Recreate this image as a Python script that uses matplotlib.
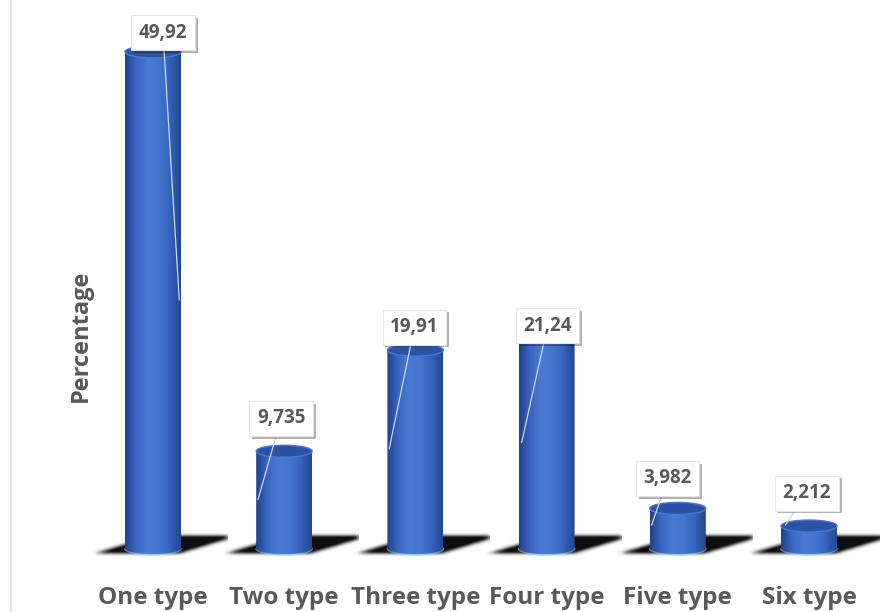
import numpy as np
import matplotlib
matplotlib.use("Agg")
import matplotlib.pyplot as plt
from matplotlib.patches import PathPatch, Ellipse
from matplotlib.path import Path
import matplotlib.patheffects as pe
from matplotlib.colors import LinearSegmentedColormap

categories = ["One type", "Two type", "Three type", "Four type", "Five type", "Six type"]
values = [49.92, 9.735, 19.91, 21.24, 3.982, 2.212]
value_labels = ["49,92", "9,735", "19,91", "21,24", "3,982", "2,212"]

# style: label offsets (px) relative to bar top, leader end x-offsets (bar units)
label_dx = [10, -3, -1, 1, -10, -2]
label_dy = [19, 33, 23, 11, 30, 33]
leader_dx = [0.2, -0.2, -0.2, -0.19, -0.2, -0.18]

W, H = 885, 612
fig = plt.figure(figsize=(W / 100, H / 100), dpi=100)
ax_left, ax_right, ax_top, ax_bottom = 30, 880, 5, 575
ax = fig.add_axes([ax_left / W, (H - ax_bottom) / H, (ax_right - ax_left) / W, (ax_bottom - ax_top) / H])

px_per_x = 131.2
px_per_y = 9.94
base_px = 548
x0_px = 153
ax.axis("off")

xs = np.arange(len(categories))
hw = 28 / px_per_x
eh = 6 / px_per_y

cmap = LinearSegmentedColormap.from_list(
    "cyl", ["#20418f", "#3a66c2", "#4a7ad3", "#4676cf", "#3562bc", "#23468f"])
grad = np.linspace(0, 1, 200)[None, :]

# blurred parallelogram shadow mask (pixel space, y up)
gx = np.arange(-75, 76)
gy = np.arange(-14, 24)
GX, GY = np.meshgrid(gx, gy)
slope = 56 / 17.0
left_edge = -56 + (GY + 5) * slope
right_edge = 28 + (GY + 5) * slope
mask = ((GY >= -5) & (GY <= 12) & (GX >= left_edge) & (GX <= right_edge)).astype(float)
k = np.exp(-0.5 * (np.arange(-7, 8) / 3.0) ** 2)
k /= k.sum()
mask = np.apply_along_axis(lambda r: np.convolve(r, k, mode="same"), 1, mask)
k2 = np.exp(-0.5 * (np.arange(-4, 5) / 1.6) ** 2)
k2 /= k2.sum()
mask = np.apply_along_axis(lambda c: np.convolve(c, k2, mode="same"), 0, mask)
shadow_rgba = np.zeros(mask.shape + (4,))
shadow_rgba[..., 3] = np.clip(mask * 1.1, 0, 0.95)

for x, v in zip(xs, values):
    ax.imshow(shadow_rgba, origin="lower", aspect="auto", interpolation="bilinear",
              extent=(x + gx[0] / px_per_x, x + gx[-1] / px_per_x,
                      gy[0] / px_per_y, gy[-1] / px_per_y), zorder=1)
    ax.add_patch(Ellipse((x, -0.1), 2 * hw * 1.03, 2 * eh * 1.1, fc="#7fd3e6", ec="none", zorder=1.5, alpha=0.6))
    tb = np.linspace(np.pi, 2 * np.pi, 40)
    tt = np.linspace(0, np.pi, 40)
    bottom = np.column_stack([x + hw * np.cos(tb), 0 + eh * np.sin(tb)])
    top = np.column_stack([x + hw * np.cos(tt), v + eh * np.sin(tt)])
    verts = np.vstack([bottom, top, bottom[:1]])
    path = Path(verts, closed=True)
    patch = PathPatch(path, fc="none", ec="none", zorder=2)
    ax.add_patch(patch)
    im = ax.imshow(grad, cmap=cmap, aspect="auto", extent=(x - hw, x + hw, -eh, v + eh),
                   zorder=2, interpolation="bilinear")
    im.set_clip_path(patch)
    ax.add_patch(Ellipse((x, v), 2 * hw, 2 * eh, fc="#2c52a6", ec="#4a78cf", lw=1.0, zorder=3))

ax.set_xlim((ax_left - x0_px) / px_per_x, (ax_right - x0_px) / px_per_x)
ax.set_ylim(-(ax_bottom - base_px) / px_per_y, (base_px - ax_top) / px_per_y)
ax.set_aspect("auto")

txt_color = "#595959"
FONT = "Open Sans"
for i, (x, v, lab) in enumerate(zip(xs, values, value_labels)):
    end_y = max(v / 2, 2.3)
    a = ax.annotate(lab, xy=(x + leader_dx[i], end_y),
                    xytext=(x + label_dx[i] / px_per_x, v + label_dy[i] / px_per_y),
                    ha="center", va="center", fontsize=13.5, fontweight="bold",
                    color=txt_color, family=FONT,
                    bbox=dict(boxstyle="square,pad=0.4", fc="white", ec="#e6e6e6", lw=0.8),
                    arrowprops=dict(arrowstyle="-", color="#c9d9f2", lw=0.9,
                                    shrinkA=0, shrinkB=0),
                    zorder=5)
    a.get_bbox_patch().set_path_effects([pe.withSimplePatchShadow(offset=(2, -2), shadow_rgbFace="black", alpha=0.3)])

for x, c in zip(xs, categories):
    ax.text(x, -(598 - base_px) / px_per_y, c, ha="center", va="center",
            fontsize=17.5, fontweight="bold", color=txt_color, family=FONT)

fig.text(81 / W, 1 - 336 / H, "Percentage", rotation=90, ha="center", va="center",
         fontsize=17, fontweight="bold", color=txt_color, family=FONT)

fig.add_artist(plt.Line2D([11 / W, 11 / W], [0, 1], color="#dcdcdc", lw=1.2))

fig.savefig("out.png", dpi=100, facecolor="white")
